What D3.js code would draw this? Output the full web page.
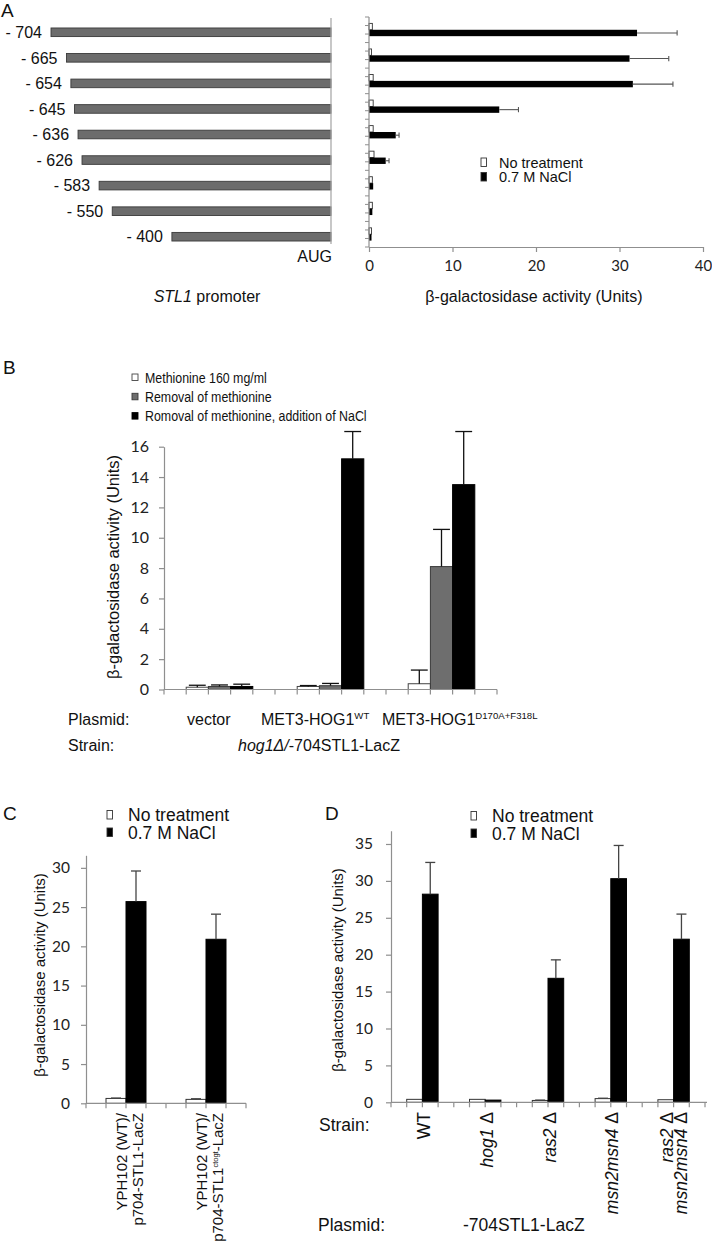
<!DOCTYPE html>
<html><head><meta charset="utf-8">
<script src="https://cdn.jsdelivr.net/npm/d3@7"></script>
<style>body{margin:0;background:#fff}</style>
</head><body>
<svg id="c" width="712" height="1250"></svg>
<script>
// ---------------- DATA ----------------
// Panel A
const promoterLabels = ["- 704","- 665","- 654","- 645","- 636","- 626","- 583","- 550","- 400"];
const promoterStarts = [-704,-665,-654,-645,-636,-626,-583,-550,-400];
const aSeries = ["No treatment","0.7 M NaCl"];
const aNoTreatment = [0.4,0.3,0.5,0.5,0.5,0.6,0.4,0.4,0.3];
const aNaCl = [32.1,31.2,31.6,15.6,3.2,2.0,0.5,0.4,0.3];
const aNaClErr = [4.8,4.7,4.8,2.3,0.4,0.4,0.0,0.0,0.0];
const aTicks = [0,10,20,30,40];

// Panel B
const bGroups = ["vector","MET3-HOG1WT","MET3-HOG1D170A+F318L"];
const bSeries = ["Methionine 160 mg/ml","Removal of methionine","Romoval of methionine, addition of NaCl"];
const bMethionine = [0.15,0.2,0.38];
const bMethionineErr = [0.13,0.06,0.9];
const bRemoval = [0.2,0.25,8.1];
const bRemovalErr = [0.1,0.15,2.45];
const bRemovalNaCl = [0.2,15.2,13.5];
const bRemovalNaClErr = [0.15,1.8,3.5];
const bTicks = [0,2,4,6,8,10,12,14,16];

// Panel C
const cCategories = ["YPH102 (WT)/p704-STL1-LacZ","YPH102 (WT)/p704-STL1ctogt-LacZ"];
const cSeries = ["No treatment","0.7 M NaCl"];
const cNoTreatment = [0.62,0.5];
const cNoTreatmentErr = [0.05,0.08];
const cNaCl = [25.7,20.9];
const cNaClErr = [3.9,3.2];
const cTicks = [0,5,10,15,20,25,30];

// Panel D
const dCategories = ["WT","hog1Δ","ras2Δ","msn2msn4Δ","ras2Δ msn2msn4Δ"];
const dSeries = ["No treatment","0.7 M NaCl"];
const dNoTreatment = [0.4,0.4,0.25,0.5,0.35];
const dNoTreatmentErr = [0,0,0.05,0.05,0];
const dNaCl = [28.2,0.3,16.8,30.3,22.1];
const dNaClErr = [4.3,0,2.5,4.5,3.4];
const dTicks = [0,5,10,15,20,25,30,35];

// ---------------- DRAWING ----------------
const ARIAL = "Arial, 'Liberation Sans', sans-serif";
const NUM = "Lato, 'Open Sans', sans-serif";
const AXC = "#8f8f8f";
const svg = d3.select("#c");

function styleAxis(g, fs) {
  g.selectAll(".domain").attr("stroke", AXC).attr("stroke-width", 1.2);
  g.selectAll(".tick line").attr("stroke", AXC).attr("stroke-width", 1.2);
  g.selectAll(".tick text").attr("font-family", NUM).attr("font-size", fs).attr("fill", "#222");
}
function panelLetter(t, x, y) {
  svg.append("text").text(t).attr("x", x).attr("y", y)
    .attr("font-family", ARIAL).attr("font-size", 19).attr("fill", "#111");
}
function segText(sel, segs, fs, supScale) {
  const sc = supScale || 0.6;
  let reset = 0;
  segs.forEach(s => {
    const ts = sel.append("tspan").text(s.t);
    if (s.sup) {
      ts.attr("font-size", fs * sc).attr("dy", -fs * 0.38 + reset);
      reset = fs * 0.38;
    } else {
      if (reset) { ts.attr("dy", reset); reset = 0; }
      if (s.i) ts.attr("font-style", "italic");
    }
  });
}
function parseLabel(str) {
  const out = [];
  str.split(/([a-z]+\d+(?:[a-z]+\d+)?)/).forEach(p => {
    if (!p) return;
    out.push({t: p, i: /^[a-z]+\d/.test(p)});
  });
  return out;
}

// ===== Panel A =====
panelLetter("A", 1, 17);
const gA = svg.append("g");
const xProm = d3.scaleLinear().domain([d3.min(promoterStarts), 0]).range([51, 331]);
const rowsL = d3.scaleBand().domain(promoterLabels).range([19.5, 249.5]);
gA.selectAll("rect.prom").data(promoterStarts).join("rect")
  .attr("x", d => xProm(d)).attr("width", d => xProm(0) - xProm(d))
  .attr("y", (d, i) => rowsL(promoterLabels[i]) + rowsL.bandwidth() / 2 - 4.3)
  .attr("height", 8.6).attr("fill", "#6c6c6c").attr("stroke", "#3a3a3a").attr("stroke-width", 0.9);
gA.selectAll("text.prom").data(promoterStarts).join("text")
  .attr("x", d => xProm(d) - 9).attr("y", (d, i) => rowsL(promoterLabels[i]) + rowsL.bandwidth() / 2)
  .attr("dy", "0.36em").attr("text-anchor", "end").attr("font-family", ARIAL).attr("font-size", 16)
  .attr("fill", "#111").text((d, i) => promoterLabels[i]);
gA.append("line").attr("x1", xProm(0)).attr("x2", xProm(0)).attr("y1", 18).attr("y2", 244)
  .attr("stroke", "#aaa").attr("stroke-width", 1.3);
gA.append("text").text("AUG").attr("x", xProm(0) + 1).attr("y", 262).attr("text-anchor", "end")
  .attr("font-family", ARIAL).attr("font-size", 16).attr("fill", "#111");
const tProm = gA.append("text").attr("x", 207).attr("y", 302).attr("text-anchor", "middle")
  .attr("font-family", ARIAL).attr("font-size", 16).attr("fill", "#111");
tProm.append("tspan").text("STL1").attr("font-style", "italic");
tProm.append("tspan").text(" promoter");

const xA = d3.scaleLinear().domain([0, 40]).range([369, 703]);
const yA = d3.scaleBand().domain(promoterLabels).range([17, 247]);
const yAs = d3.scaleBand().domain(aSeries).range([0, yA.bandwidth()]).paddingOuter(1);
const aRows = promoterLabels.map((l, i) => ({l, nt: aNoTreatment[i], na: aNaCl[i], e: aNaClErr[i]}));
gA.selectAll("rect.ant").data(aRows).join("rect")
  .attr("x", xA(0)).attr("y", d => yA(d.l) + yAs(aSeries[0]))
  .attr("width", d => xA(d.nt) - xA(0)).attr("height", yAs.bandwidth())
  .attr("fill", "#fff").attr("stroke", "#333").attr("stroke-width", 0.9);
gA.selectAll("rect.ana").data(aRows).join("rect")
  .attr("x", xA(0)).attr("y", d => yA(d.l) + yAs(aSeries[1]))
  .attr("width", d => xA(d.na) - xA(0)).attr("height", yAs.bandwidth())
  .attr("fill", "#000");
const aErr = gA.selectAll("g.aerr").data(aRows.filter(d => d.e > 0)).join("g")
  .attr("stroke", "#555").attr("stroke-width", 1.1);
aErr.append("line").attr("x1", d => xA(d.na)).attr("x2", d => xA(d.na + d.e))
  .attr("y1", d => yA(d.l) + yAs(aSeries[1]) + yAs.bandwidth() / 2)
  .attr("y2", d => yA(d.l) + yAs(aSeries[1]) + yAs.bandwidth() / 2);
aErr.append("line").attr("x1", d => xA(d.na + d.e)).attr("x2", d => xA(d.na + d.e))
  .attr("y1", d => yA(d.l) + yAs(aSeries[1]) + yAs.bandwidth() / 2 - 2.6)
  .attr("y2", d => yA(d.l) + yAs(aSeries[1]) + yAs.bandwidth() / 2 + 2.6);
const axA = gA.append("g").attr("transform", "translate(0,247)")
  .call(d3.axisBottom(xA).tickValues(aTicks).tickSize(5).tickPadding(8).tickSizeOuter(0));
styleAxis(axA, 15);
gA.append("line").attr("x1", xA(0)).attr("x2", xA(0)).attr("y1", 17).attr("y2", 247)
  .attr("stroke", AXC).attr("stroke-width", 1.2);
gA.selectAll("line.ytk").data(d3.range(promoterLabels.length * 3 + 1)).join("line")
  .attr("x1", xA(0) - 4).attr("x2", xA(0))
  .attr("y1", i => yA.range()[0] + i * yA.step() / 3).attr("y2", i => yA.range()[0] + i * yA.step() / 3)
  .attr("stroke", AXC).attr("stroke-width", 1);
gA.append("text").text("β-galactosidase activity (Units)").attr("x", 534).attr("y", 302)
  .attr("text-anchor", "middle").attr("font-family", ARIAL).attr("font-size", 16).attr("fill", "#111");
aSeries.forEach((s, i) => {
  gA.append("rect").attr("x", 481).attr("y", 158 + i * 14.5).attr("width", 5.5).attr("height", 8.5)
    .attr("fill", i ? "#000" : "#fff").attr("stroke", "#333").attr("stroke-width", 0.9);
  gA.append("text").text(s).attr("x", 499).attr("y", 167.5 + i * 14.5)
    .attr("font-family", ARIAL).attr("font-size", 14.5).attr("fill", "#111");
});

// ===== Panel B =====
panelLetter("B", 3, 374);
const gB = svg.append("g");
const yB = d3.scaleLinear().domain([0, 16]).range([689.5, 446.7]);
const slotB = d3.scaleBand().domain(d3.range(bGroups.length * 5)).range([164, 497]);
const bVals = [bMethionine, bRemoval, bRemovalNaCl];
const bErrs = [bMethionineErr, bRemovalErr, bRemovalNaClErr];
const bFill = ["#fff", "#6e6e6e", "#000"];
const bStroke = ["#444", "#3a3a3a", "#000"];
const bData = [];
bGroups.forEach((g, gi) => bSeries.forEach((s, si) => bData.push({slot: gi * 5 + 1 + si, si, v: bVals[si][gi], e: bErrs[si][gi]})));
gB.selectAll("rect.b").data(bData).join("rect")
  .attr("x", d => slotB(d.slot)).attr("width", slotB.bandwidth())
  .attr("y", d => yB(d.v)).attr("height", d => yB(0) - yB(d.v))
  .attr("fill", d => bFill[d.si]).attr("stroke", d => bStroke[d.si]).attr("stroke-width", 1);
const bErrG = gB.selectAll("g.be").data(bData).join("g").attr("stroke", "#111").attr("stroke-width", 1.3);
bErrG.append("line").attr("x1", d => slotB(d.slot) + slotB.bandwidth() / 2).attr("x2", d => slotB(d.slot) + slotB.bandwidth() / 2)
  .attr("y1", d => yB(d.v)).attr("y2", d => yB(d.v + d.e));
bErrG.append("line").attr("x1", d => slotB(d.slot) + slotB.bandwidth() * 0.12).attr("x2", d => slotB(d.slot) + slotB.bandwidth() * 0.88)
  .attr("y1", d => yB(d.v + d.e)).attr("y2", d => yB(d.v + d.e));
const axBy = gB.append("g").attr("transform", "translate(164,0)")
  .call(d3.axisLeft(yB).tickValues(bTicks).tickSize(5).tickPadding(10).tickSizeOuter(0));
styleAxis(axBy, 16);
gB.append("line").attr("x1", 164).attr("x2", 497).attr("y1", yB(0)).attr("y2", yB(0)).attr("stroke", AXC).attr("stroke-width", 1.2);
gB.selectAll("line.xt").data(d3.range(bGroups.length * 5 + 1)).join("line")
  .attr("x1", i => slotB.range()[0] + i * slotB.step()).attr("x2", i => slotB.range()[0] + i * slotB.step())
  .attr("y1", yB(0)).attr("y2", yB(0) + 5).attr("stroke", AXC).attr("stroke-width", 1.2);
gB.append("text").text("β-galactosidase activity (Units)")
  .attr("transform", "translate(113,567) rotate(-90)").attr("dy", "0.35em")
  .attr("text-anchor", "middle").attr("font-family", ARIAL).attr("font-size", 16.5).attr("fill", "#111");
bSeries.forEach((s, i) => {
  gB.append("rect").attr("x", 132).attr("y", 374 + i * 19.3).attr("width", 6).attr("height", 6.5)
    .attr("fill", bFill[i]).attr("stroke", bStroke[i]).attr("stroke-width", 0.9);
  gB.append("text").text(s).attr("transform", `translate(145,${382.5 + i * 19.3}) scale(0.8,1)`)
    .attr("font-family", ARIAL).attr("font-size", 15.5).attr("fill", "#111");
});
const bLab = (x, y, segs, fs) => {
  const t = gB.append("text").attr("x", x).attr("y", y).attr("font-family", ARIAL).attr("font-size", fs).attr("fill", "#111");
  segText(t, segs, fs);
};
bLab(68, 725, [{t: "Plasmid:"}], 16);
bLab(68, 751, [{t: "Strain:"}], 16);
bLab(187, 725, [{t: bGroups[0]}], 16);
bLab(261, 725, [{t: "MET3-HOG1"}, {t: bGroups[1].slice(9), sup: true}], 16);
bLab(382, 725, [{t: "MET3-HOG1"}, {t: bGroups[2].slice(9), sup: true}], 16);
bLab(238, 751, [{t: "hog1Δ/", i: true}, {t: "-704STL1-LacZ"}], 16);

// ===== shared for C & D =====
function groupedPanel(opt) {
  const g = svg.append("g");
  const y = d3.scaleLinear().domain([0, opt.yMax]).range([opt.y0, opt.y1]);
  const n = opt.cats.length;
  const slot = d3.scaleBand().domain(d3.range(n * opt.per)).range([opt.x0, opt.x1]);
  const data = [];
  opt.cats.forEach((c, ci) => {
    data.push({slot: ci * opt.per + 1, s: 0, v: opt.nt[ci], e: opt.ntErr[ci]});
    data.push({slot: ci * opt.per + 2, s: 1, v: opt.na[ci], e: opt.naErr[ci]});
  });
  g.selectAll("rect").data(data).join("rect")
    .attr("x", d => slot(d.slot)).attr("width", slot.bandwidth())
    .attr("y", d => y(d.v)).attr("height", d => y(0) - y(d.v))
    .attr("fill", d => d.s ? "#000" : "#fff").attr("stroke", d => d.s ? "#000" : "#333").attr("stroke-width", 1);
  const eg = g.selectAll("g.e").data(data.filter(d => d.e > 0)).join("g").attr("stroke", "#444").attr("stroke-width", 1.3);
  eg.append("line").attr("x1", d => slot(d.slot) + slot.bandwidth() / 2).attr("x2", d => slot(d.slot) + slot.bandwidth() / 2)
    .attr("y1", d => y(d.v)).attr("y2", d => y(d.v + d.e));
  eg.append("line").attr("x1", d => slot(d.slot) + slot.bandwidth() / 2 - opt.cap).attr("x2", d => slot(d.slot) + slot.bandwidth() / 2 + opt.cap)
    .attr("y1", d => y(d.v + d.e)).attr("y2", d => y(d.v + d.e));
  const ay = g.append("g").attr("transform", `translate(${opt.x0},0)`)
    .call(d3.axisLeft(y).tickValues(opt.ticks).tickSize(5).tickPadding(opt.pad).tickSizeOuter(0));
  styleAxis(ay, 15.5);
  g.append("line").attr("x1", opt.x0).attr("x2", opt.xEnd).attr("y1", y(0)).attr("y2", y(0)).attr("stroke", AXC).attr("stroke-width", 1.2);
  g.selectAll("line.xt").data(d3.range(n * opt.per + 1)).join("line")
    .attr("x1", i => slot.range()[0] + i * slot.step()).attr("x2", i => slot.range()[0] + i * slot.step())
    .attr("y1", y(0)).attr("y2", y(0) + 5).attr("stroke", AXC).attr("stroke-width", 1.2);
  g.append("text").text("β-galactosidase activity (Units)")
    .attr("transform", `translate(${opt.titleX},${opt.titleY}) rotate(-90)`).attr("dy", "0.35em")
    .attr("text-anchor", "middle").attr("font-family", ARIAL).attr("font-size", 15).attr("fill", "#111");
  opt.series.forEach((s, i) => {
    g.append("rect").attr("x", opt.legX).attr("y", opt.legY + i * 17.5 - 4.5).attr("width", 5.5).attr("height", 8.5)
      .attr("fill", i ? "#000" : "#fff").attr("stroke", "#333").attr("stroke-width", 0.9);
    g.append("text").text(s).attr("x", opt.legX + 21).attr("y", opt.legY + i * 17.5).attr("dy", "0.35em")
      .attr("font-family", ARIAL).attr("font-size", 17.5).attr("fill", "#111");
  });
  opt.labels.forEach((lines, ci) => {
    const xc = slot(ci * opt.per + 2);
    lines.forEach((segs, li) => {
      const lx = xc + opt.lineOff[lines.length - 1][li];
      const t = g.append("text").attr("transform", `translate(${lx},${opt.labTop}) rotate(-90)`)
        .attr("dy", "0.35em").attr("text-anchor", "end").attr("font-family", ARIAL)
        .attr("font-size", opt.labFs).attr("fill", "#111");
      segText(t, segs, opt.labFs, opt.supScale);
    });
  });
  return g;
}

// ===== Panel C =====
panelLetter("C", 3, 820);
groupedPanel({
  cats: cCategories, series: cSeries, nt: cNoTreatment, ntErr: cNoTreatmentErr, na: cNaCl, naErr: cNaClErr,
  yMax: 31.6, y0: 1103.3, y1: 855.3, x0: 86, x1: 246, xEnd: 246, per: 4, ticks: cTicks, pad: 11, cap: 5,
  titleX: 40, titleY: 975, legX: 107, legY: 815,
  labels: cCategories.map(c => {
    const [l1, l2] = c.split("/");
    const sup = l2.match(/STL1([a-z]+)-/);
    return [[{t: l1 + "/"}], sup ? [{t: "p704-STL1"}, {t: sup[1], sup: true}, {t: "-LacZ"}] : [{t: l2}]];
  }),
  lineOff: [[0], [-4, 12]], labTop: 1113, labFs: 15, supScale: 0.5
});

// ===== Panel D =====
panelLetter("D", 325, 820);
const gD = groupedPanel({
  cats: dCategories, series: dSeries, nt: dNoTreatment, ntErr: dNoTreatmentErr, na: dNaCl, naErr: dNaClErr,
  yMax: 36.8, y0: 1102.3, y1: 830.7, x0: 391, x1: 705, xEnd: 707, per: 4, ticks: dTicks, pad: 13, cap: 5,
  titleX: 338, titleY: 970, legX: 471, legY: 816,
  labels: dCategories.map(c => c.split(" ").map(w => parseLabel(w.replace("Δ", " Δ")))),
  lineOff: [[1.5], [-7, 7]], labTop: 1112, labFs: 17.5
});
[["Strain:", 319, 1131], ["Plasmid:", 318, 1231], ["-704STL1-LacZ", 463, 1231]].forEach(([t, x, y]) => {
  gD.append("text").text(t).attr("x", x).attr("y", y).attr("font-family", ARIAL).attr("font-size", 17.5).attr("fill", "#111");
});
</script>
</body></html>
